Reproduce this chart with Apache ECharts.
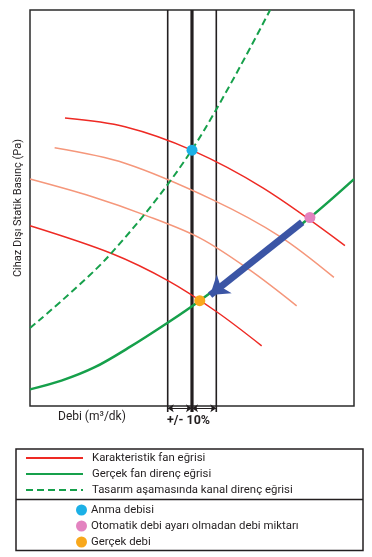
<!DOCTYPE html>
<html>
<head>
<meta charset="utf-8">
<script src="https://cdn.jsdelivr.net/npm/echarts@6/dist/echarts.min.js"></script>
<style>
html,body{margin:0;padding:0;background:#fff;}
#chart{width:372px;height:557px;}
</style>
</head>
<body>
<div id="chart"></div>
<script>
// ---- data (x: Debi, y: Cihaz Dışı Statik Basınç), arbitrary units 0-100 ----
const xRange = [0, 100];
const yRange = [0, 100];

const fanCurve1 = [[10.8,72.7],[29.3,70.5],[49.9,64.6],[72.0,55.0],[97.2,40.5]];
const fanCurve2 = [[7.6,65.2],[29.3,61.3],[56.6,52.0],[77.2,42.8],[93.8,32.5]];
const fanCurve3 = [[0,57.3],[19.0,52.9],[35.5,48.2],[52.5,42.4],[67.9,34.3],[82.3,25.3]];
const fanCurve4 = [[0,45.5],[25.2,38.5],[42.7,31.6],[57.6,23.8],[71.5,15.2]];

const systemCurve = [[0,4.2],[9.7,6.4],[20.0,9.8],[30.2,14.6],[42.6,21.1],[52.4,26.6],[69.4,37.0],[86.4,47.6],[100,57.3]];
const designCurve = [[0,19.7],[24.1,37.7],[49.9,64.6],[74.1,100]];

const nominalPoint = [[50.0,64.6]];     // Anma debisi
const uncontrolledPoint = [[86.4,47.6]]; // Otomatik debi ayarı olmadan
const actualPoint = [[52.4,26.6]];       // Gerçek debi

const nominalFlow = 50;
const tolerance = 7.5;                   // +/- 10%
const guideYRange = [-1.5, 100];
const toleranceArrowY = -0.55;
const arrowFrom = [84.0, 46.4];
const arrowTo = [55.6, 28.0];

const names = {
  fan: 'Karakteristik fan eğrisi',
  system: 'Gerçek fan direnç eğrisi',
  design: 'Tasarım aşamasında kanal direnç eğrisi',
  nominal: 'Anma debisi',
  uncontrolled: 'Otomatik debi ayarı olmadan debi miktarı',
  actual: 'Gerçek debi'
};

const RED = '#ee2a24', SALMON = '#f5977b', GREEN = '#16a04b', INK = '#231f20';
const FONT = 'Roboto';

function vline(x, w) {
  return {
    type: 'line', data: [[x, guideYRange[0]], [x, guideYRange[1]]],
    symbol: 'none', clip: false, silent: true, z: 1,
    lineStyle: { color: INK, width: w }
  };
}
function curve(name, data, color, w, dash, z) {
  return {
    name, type: 'line', data, smooth: 0.33, symbol: 'none', z,
    lineStyle: { color, width: w, type: dash || 'solid' }, itemStyle: { color }
  };
}
function dot(name, data, color) {
  return {
    name, type: 'scatter', data, symbolSize: 11, z: 10,
    itemStyle: { color, opacity: 1 }
  };
}

const chart = echarts.init(document.getElementById('chart'), null, { renderer: 'canvas' });
chart.setOption({
  animation: false,
  backgroundColor: '#fff',
  grid: { left: 30, right: 18, top: 10, bottom: 151, show: true, borderColor: '#2b2b2b', borderWidth: 1.5, backgroundColor: 'transparent' },
  xAxis: { type: 'value', min: xRange[0], max: xRange[1], axisLine: { show: false }, axisTick: { show: false }, axisLabel: { show: false }, splitLine: { show: false } },
  yAxis: {
    type: 'value', min: yRange[0], max: yRange[1],
    axisLine: { show: false }, axisTick: { show: false }, axisLabel: { show: false }, splitLine: { show: false },
    name: 'Cihaz Dışı Statik Basınç (Pa)', nameLocation: 'middle', nameGap: 6, nameRotate: 90,
    nameTextStyle: { fontFamily: FONT, fontSize: 11, color: INK }
  },
  legend: [
    {
      data: [names.fan, names.system, names.design], orient: 'vertical', left: 25, top: 451,
      padding: 0, itemWidth: 57, itemHeight: 14, itemGap: 2, selectedMode: false,
      itemStyle: { opacity: 0 },
      textStyle: { fontFamily: FONT, fontSize: 11.4, color: INK, lineHeight: 14, padding: [0,0,0,4] }
    },
    {
      data: [names.nominal, names.uncontrolled, names.actual], orient: 'vertical', left: 76, top: 503,
      padding: 0, itemWidth: 11, itemHeight: 11, itemGap: 2, selectedMode: false, icon: 'circle',
      textStyle: { fontFamily: FONT, fontSize: 11.4, color: INK, lineHeight: 14, padding: [0,0,0,-1] }
    }
  ],
  graphic: [
    { type: 'rect', shape: { x: 16, y: 449, width: 347, height: 101.5 }, style: { fill: 'none', stroke: INK, lineWidth: 1.5 } },
    { type: 'line', shape: { x1: 16, y1: 499.5, x2: 363, y2: 499.5 }, style: { stroke: INK, lineWidth: 1.5 } },
    { type: 'text', left: 58, top: 411, style: { text: 'Debi (m³/dk)', font: '12px ' + FONT, fill: INK } },
    { type: 'text', left: 167, top: 414, style: { text: '+/- 10%', font: 'bold 12.5px ' + FONT, fill: INK } }
  ],
  series: [
    vline(nominalFlow - tolerance, 1.6),
    vline(nominalFlow, 3.2),
    vline(nominalFlow + tolerance, 1.6),
    {
      type: 'lines', coordinateSystem: 'cartesian2d', clip: false, silent: true, z: 2,
      symbol: ['arrow', 'arrow'], symbolSize: 6,
      lineStyle: { color: INK, width: 1, opacity: 1 },
      data: [
        { coords: [[nominalFlow - tolerance, toleranceArrowY], [nominalFlow, toleranceArrowY]] },
        { coords: [[nominalFlow, toleranceArrowY], [nominalFlow + tolerance, toleranceArrowY]] }
      ]
    },
    curve(names.fan, fanCurve1, RED, 1.5, null, 3),
    curve(names.fan, fanCurve2, SALMON, 1.5, null, 3),
    curve(names.fan, fanCurve3, SALMON, 1.5, null, 3),
    curve(names.fan, fanCurve4, RED, 1.5, null, 3),
    curve(names.system, systemCurve, GREEN, 2.5, null, 4),
    curve(names.design, designCurve, GREEN, 2, [7, 4], 4),
    {
      type: 'lines', coordinateSystem: 'cartesian2d', silent: true, z: 8,
      symbol: ['none', 'arrow'], symbolSize: 18,
      lineStyle: { color: '#3b55a5', width: 7, opacity: 1 },
      data: [{ coords: [arrowFrom, arrowTo] }]
    },
    dot(names.nominal, nominalPoint, '#1cb0e6'),
    dot(names.uncontrolled, uncontrolledPoint, '#e383c0'),
    dot(names.actual, actualPoint, '#f8a81c')
  ]
});
</script>
</body>
</html>
